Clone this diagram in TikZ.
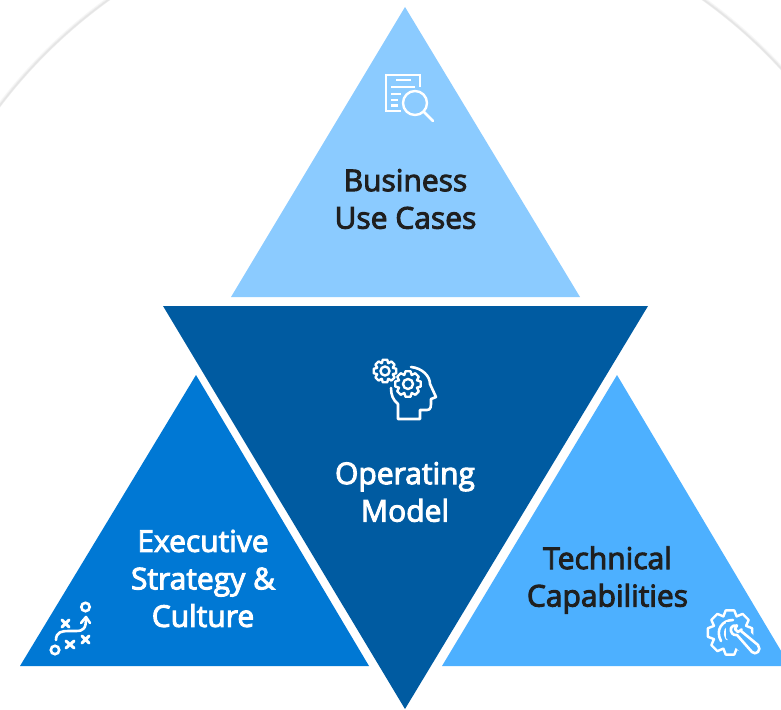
\documentclass[tikz,border=0pt]{standalone}
\usepackage{fontspec}
\setmainfont{Open Sans}[FakeBold=3.2]
\definecolor{lightb}{HTML}{8BCBFF}
\definecolor{deepb}{HTML}{005BA1}
\definecolor{midb}{HTML}{0078D4}
\definecolor{skyb}{HTML}{4DB0FF}
\tikzset{
  tri/.style={fill=#1,draw=none},
  lab/.style={align=center,font=\fontsize{30}{37.5}\selectfont},
  ico/.style={draw=white,line width=2.4pt,fill=none},
  icoround/.style={ico,line width=2.6pt,line cap=round,line join=round},
}
\newcommand{\gearshape}[4]{% x y outer-r inner-r
  \draw[ico,line join=round] ({#1+#4*cos(-24)},{#2+#4*sin(-24)})
  \foreach \a in {0,45,...,315}{
    -- ({#1+#4*cos(\a-22)},{#2+#4*sin(\a-22)}) -- ({#1+#3*cos(\a-11)},{#2+#3*sin(\a-11)}) -- ({#1+#3*cos(\a+11)},{#2+#3*sin(\a+11)}) -- ({#1+#4*cos(\a+22)},{#2+#4*sin(\a+22)})
  } -- cycle;
}
\begin{document}
\begin{tikzpicture}[x=1pt,y=-1pt]
\useasboundingbox (0,0) rectangle (781,709);
\begin{scope}
\clip (0,0) rectangle (781,709);
% soft outer circle
\foreach \w/\c in {5/black!3,3/black!6,1.5/black!10}{
  \draw[draw=\c,line width=\w pt] (406,414) circle[radius=510];
}
\fill[white] (406,414) circle[radius=508.5];
% triangles
\fill[tri=lightb] (405,7) -- (580,297) -- (231,297) -- cycle;
\fill[tri=midb] (196,375) -- (369,666) -- (20,666) -- cycle;
\fill[tri=skyb] (617,375) -- (790,666) -- (442,666) -- cycle;
\fill[tri=deepb] (163,306) -- (648,306) -- (405,709) -- cycle;
\end{scope}
% labels
\node[lab,text=black!88] (business) at (405.5,199) {Business\\Use Cases};
\node[lab,text=white] (operating) at (405,492) {Operating\\Model};
\node[lab,text=white] (executive) at (203,578.5) {Executive\\Strategy \&\\Culture};
\node[lab,text=black!88] (technical) at (607.5,580) {Technical\\Capabilities};
% document + magnifier icon
\begin{scope}
\draw[ico,line width=2.2pt] (401,111) -- (386,111) -- (386,75) -- (420,75) -- (420,87);
\draw[ico,line width=2.4pt] (396,80) -- (411,80);
\draw[ico,line width=2.4pt] (391,87) -- (415,87);
\draw[ico,line width=2.4pt] (391,94) -- (401,94);
\draw[ico,line width=2.4pt] (391,100) -- (398,100);
\draw[ico,line width=2.4pt] (391,105.5) -- (398,105.5);
\draw[ico,line width=2.4pt] (415,103) circle[radius=12];
\draw[ico,line cap=round,line width=2.6pt] (424,112) -- (433,121);
\end{scope}
% head with gears icon
\gearshape{385}{371}{11.5}{8.5}
\draw[ico] (385,371) circle[radius=4.5];
\gearshape{408}{384}{13}{9.8}
\draw[ico] (408,384) circle[radius=5];
\draw[icoround] (391,388) .. controls (391,395) and (393,400) .. (398,404) -- (398,419) -- (420,419) -- (420,410) -- (427,410) .. controls (431,410) and (431,406) .. (431,402) -- (431,399) -- (436,397) -- (430,384) .. controls (430,376) and (422,368) .. (411,367);
% playbook icon
\draw[ico,line width=2.6pt] (55,650) circle[radius=4.2];
\draw[ico,line width=2.6pt] (85.5,607) circle[radius=4.2];
\draw[icoround] (56,640) .. controls (56,632) and (62,631) .. (68,631) -- (76,631) .. controls (84,631) and (86,628) .. (86,618);
\draw[icoround] (81,623) -- (86,617) -- (90,623);
\draw[icoround,line width=3pt] (62,620) -- (69,627) (69,620) -- (62,627);
\draw[icoround,line width=3pt] (66,641) -- (74,648) (74,641) -- (66,648);
\draw[icoround,line width=3pt] (82,636) -- (89,643) (89,636) -- (82,643);
% technical gear icon
\gearshape{730}{632.5}{22.5}{17.5}
\draw[icoround] (721,641) .. controls (715,630) and (722,620) .. (733,620);
\draw[icoround] (727,639) .. controls (723,632) and (726,627) .. (731,626);
\fill[skyb] (726,622) -- (740,622) -- (763,645) -- (757,660) -- (748,660) -- (726,638) -- cycle;
\draw[icoround] (741,631) -- (758,645) .. controls (762,650) and (756,656) .. (752,652) -- (737,635) .. controls (733,636) and (730,632) .. (731,628) .. controls (732,626) and (734,625) .. (737,625.5) -- (735,629) -- (738,632) -- (741.5,629.5) -- (741,631);
\end{tikzpicture}
\end{document}
